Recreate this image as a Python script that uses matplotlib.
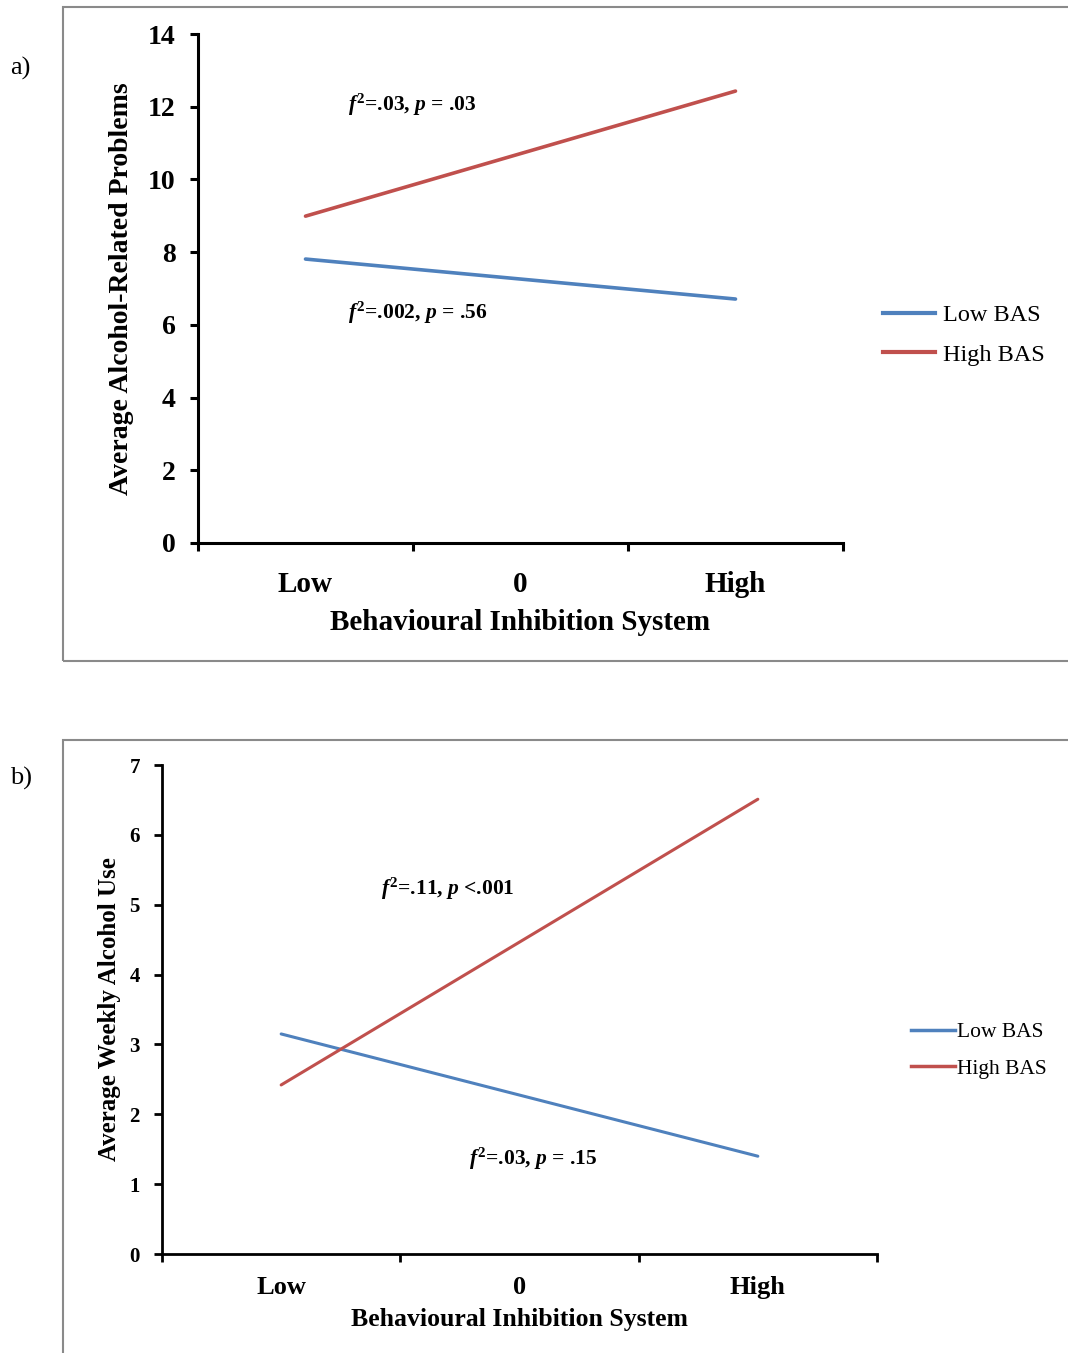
import matplotlib
matplotlib.use('Agg')
import matplotlib.pyplot as plt
from matplotlib.patches import Rectangle
from matplotlib.lines import Line2D

plt.rcParams['font.family'] = 'Liberation Serif'
plt.rcParams['mathtext.fontset'] = 'custom'
plt.rcParams['mathtext.rm'] = 'Liberation Serif:bold'
plt.rcParams['mathtext.it'] = 'Liberation Serif:italic:bold'
plt.rcParams['mathtext.bf'] = 'Liberation Serif:bold'

# ---------------------------------------------------------------
# data
# ---------------------------------------------------------------
categories = ['Low', '0', 'High']
x_levels = [0.5, 2.5]          # Low and High BIS

a_low_bas = [7.81, 6.71]
a_high_bas = [8.99, 12.43]
b_low_bas = [3.15, 1.40]
b_high_bas = [2.42, 6.51]

a_ann = [(0.70, 12.05, r'$f^2$=.03, $p$ = .03'),
         (0.70, 6.33, r'$f^2$=.002, $p$ = .56')]
b_ann = [(0.92, 5.22, r'$f^2$=.11, $p$ <.001'),
         (1.29, 1.36, r'$f^2$=.03, $p$ = .15')]

BLUE = '#4F81BD'
RED = '#C0504D'

W, H = 1068, 1353
fig = plt.figure(figsize=(W / 100, H / 100), dpi=100)


def fx(px):
    return px / W


def fy(py):
    return 1 - py / H


# panel frames
fig.patches.append(Rectangle((fx(63), fy(661)), fx(1010), 654 / H,
                             transform=fig.transFigure, fill=False,
                             edgecolor='#8a8a8a', lw=1.5))
fig.patches.append(Rectangle((fx(63), fy(1360)), fx(1010), 620 / H,
                             transform=fig.transFigure, fill=False,
                             edgecolor='#8a8a8a', lw=1.5))
fig.text(fx(10), fy(68), 'a)', fontsize=19, va='center', ha='left')
fig.text(fx(10), fy(778), 'b)', fontsize=19, va='center', ha='left')


def style_axes(ax, ymax, tick_fs, xtick_fs, xlab_fs, ylab_fs, ylab, spine_lw):
    ax.set_xlim(0, 3)
    ax.set_ylim(0, ymax)
    for s in ['top', 'right']:
        ax.spines[s].set_visible(False)
    for s in ['left', 'bottom']:
        ax.spines[s].set_linewidth(spine_lw)
    ax.set_yticks(range(0, ymax + 1, 2 if ymax > 7 else 1))
    ax.set_xticks([0, 1, 2, 3])
    ax.set_xticklabels([])
    ax.set_xticks([0.5, 1.5, 2.5], minor=True)
    ax.set_xticklabels(categories, minor=True, fontsize=xtick_fs,
                       fontweight='bold')
    ax.tick_params(axis='x', which='minor', length=0, pad=20)
    ax.tick_params(axis='x', which='major', length=6, width=spine_lw,
                   direction='out')
    ax.tick_params(axis='y', length=6, width=spine_lw, direction='out',
                   labelsize=tick_fs, pad=10)
    for t in ax.get_yticklabels():
        t.set_fontweight('bold')
    ax.set_xlabel('Behavioural Inhibition System', fontsize=xlab_fs,
                  fontweight='bold', labelpad=8)
    ax.set_ylabel(ylab, fontsize=ylab_fs, fontweight='bold')


# ---------------------------------------------------------------
# panel a
# ---------------------------------------------------------------
ax1 = fig.add_axes([fx(198), fy(543), fx(645), 509 / H])
ax1.plot(x_levels, a_low_bas, color=BLUE, lw=2.6, solid_capstyle='round')
ax1.plot(x_levels, a_high_bas, color=RED, lw=2.6, solid_capstyle='round')
style_axes(ax1, 14, 20, 21, 21, 20, 'Average Alcohol-Related Problems', 2.2)
ax1.yaxis.set_label_coords(-0.10, 0.5)
for x, y, s in a_ann:
    ax1.text(x, y, s, fontsize=15.5, fontweight='bold', va='center', ha='left')

leg_a = [Line2D([0], [0], color=BLUE, lw=3), Line2D([0], [0], color=RED, lw=3)]
fig.legend(leg_a, ['Low BAS', 'High BAS'], loc='center left',
           bbox_to_anchor=(fx(883), fy(335)), frameon=False, fontsize=17.5,
           borderaxespad=0, borderpad=0,
           handlelength=2.14, handletextpad=0.33, labelspacing=0.72)

# ---------------------------------------------------------------
# panel b
# ---------------------------------------------------------------
ax2 = fig.add_axes([fx(162), fy(1254), fx(715), 489 / H])
ax2.plot(x_levels, b_low_bas, color=BLUE, lw=2.2, solid_capstyle='round')
ax2.plot(x_levels, b_high_bas, color=RED, lw=2.2, solid_capstyle='round')
style_axes(ax2, 7, 15, 19, 18.5, 18, 'Average Weekly Alcohol Use', 2.0)
ax2.yaxis.set_label_coords(-0.058, 0.5)
ax2.tick_params(axis='x', which='minor', pad=16)
ax2.xaxis.labelpad = 6
for x, y, s in b_ann:
    ax2.text(x, y, s, fontsize=15.5, fontweight='bold', va='center', ha='left')

leg_b = [Line2D([0], [0], color=BLUE, lw=2.5), Line2D([0], [0], color=RED, lw=2.5)]
fig.legend(leg_b, ['Low BAS', 'High BAS'], loc='center left',
           bbox_to_anchor=(fx(911), fy(1050.5)), frameon=False, fontsize=15.5,
           borderaxespad=0, borderpad=0,
           handlelength=2.04, handletextpad=0.1, labelspacing=0.75)

fig.savefig('out.png', dpi=100)
